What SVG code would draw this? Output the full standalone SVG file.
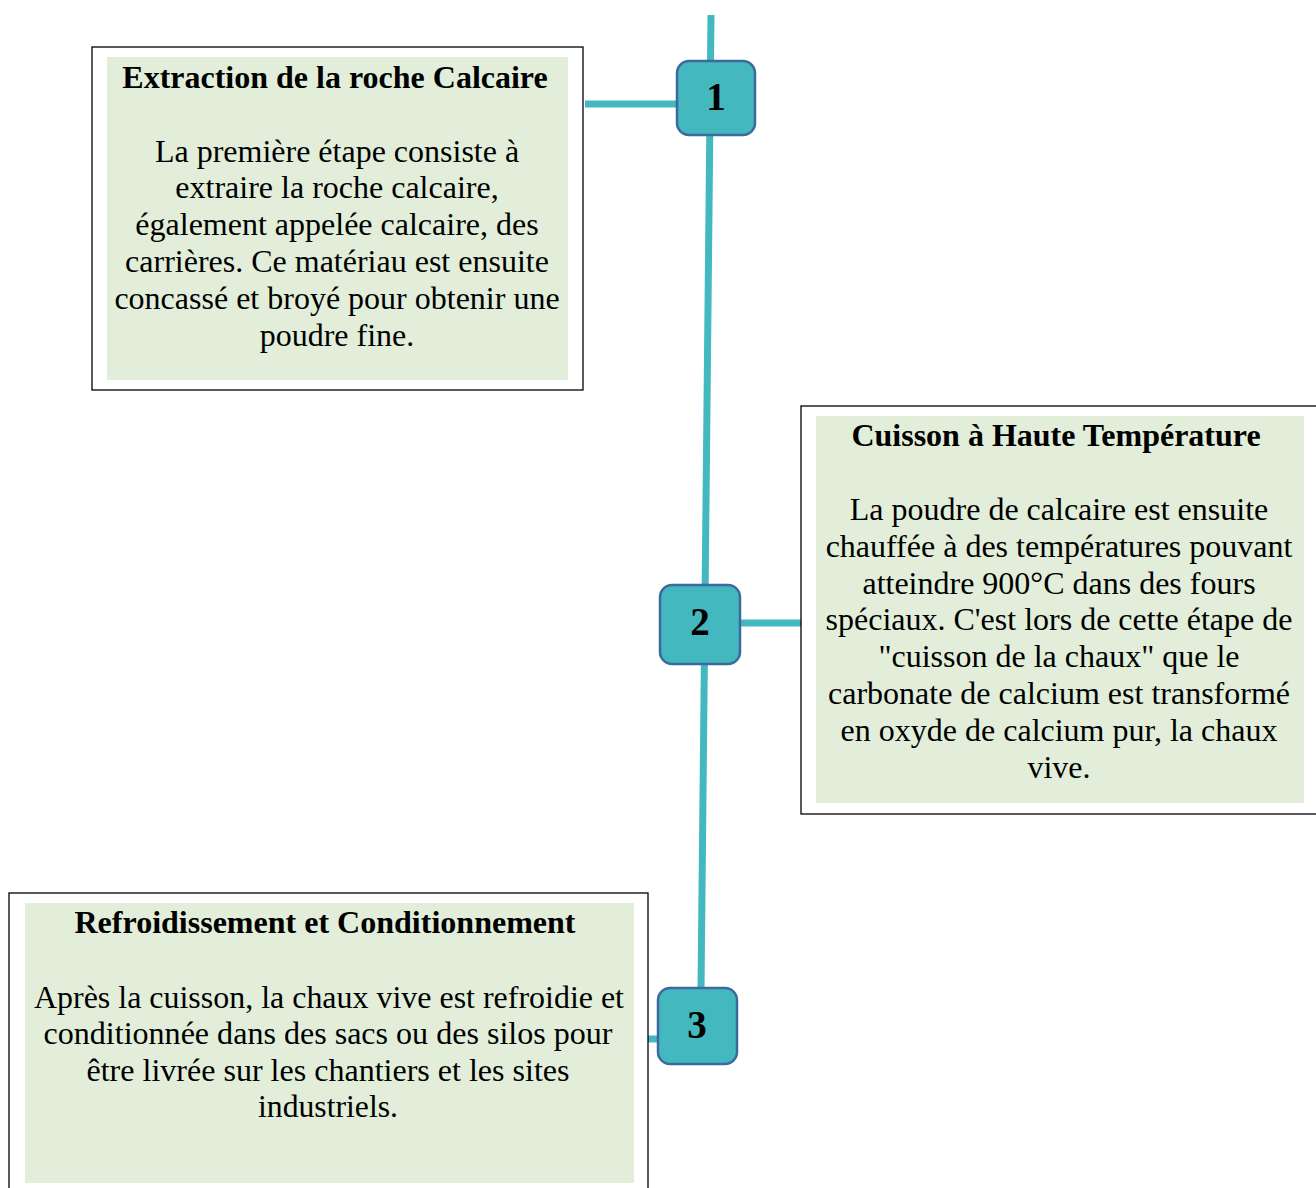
<svg xmlns="http://www.w3.org/2000/svg" width="1316" height="1188" viewBox="0 0 1316 1188">
<style>
.frame{fill:#ffffff;stroke:#000000;stroke-width:1.3}
.fill{fill:#E2EED9}
.title{font-family:"Liberation Serif","Times New Roman",serif;font-weight:bold;font-size:32px;fill:#000;text-anchor:middle}
.body{font-family:"Liberation Serif","Times New Roman",serif;font-size:32px;fill:#000;text-anchor:middle}
.num{fill:#43B9BF;stroke:#3D6A9C;stroke-width:2.5}
.numt{font-family:"Liberation Serif","Times New Roman",serif;font-weight:bold;font-size:39px;fill:#000;text-anchor:middle}
.conn{stroke:#43B9BF;stroke-width:7;fill:none}
</style>
<g id="connectors">
<line class="conn" x1="711" y1="15" x2="701" y2="990"/>
<line class="conn" x1="585" y1="104" x2="678" y2="104"/>
<line class="conn" x1="739" y1="623" x2="801" y2="623"/>
<line class="conn" x1="648" y1="1039" x2="660" y2="1039"/>
</g>
<g id="box1">
<rect class="frame" x="92" y="47" width="491" height="343"/>
<rect class="fill" x="107" y="57" width="461" height="323"/>
<text class="title" x="335" y="88">Extraction de la roche Calcaire</text>
<text class="body" x="337" y="162">La première étape consiste à</text>
<text class="body" x="337" y="198">extraire la roche calcaire,</text>
<text class="body" x="337" y="235">également appelée calcaire, des</text>
<text class="body" x="337" y="272">carrières. Ce matériau est ensuite</text>
<text class="body" x="337" y="309">concassé et broyé pour obtenir une</text>
<text class="body" x="337" y="346">poudre fine.</text>
</g>
<g id="box2">
<rect class="frame" x="801" y="406" width="520" height="408"/>
<rect class="fill" x="816" y="416" width="488" height="387"/>
<text class="title" x="1056" y="446">Cuisson à Haute Température</text>
<text class="body" x="1059" y="520">La poudre de calcaire est ensuite</text>
<text class="body" x="1059" y="557">chauffée à des températures pouvant</text>
<text class="body" x="1059" y="594">atteindre 900°C dans des fours</text>
<text class="body" x="1059" y="630">spéciaux. C'est lors de cette étape de</text>
<text class="body" x="1059" y="667">"cuisson de la chaux" que le</text>
<text class="body" x="1059" y="704">carbonate de calcium est transformé</text>
<text class="body" x="1059" y="741">en oxyde de calcium pur, la chaux</text>
<text class="body" x="1059" y="778">vive.</text>
</g>
<g id="box3">
<rect class="frame" x="9" y="893" width="639" height="310"/>
<rect class="fill" x="25" y="903" width="609" height="280"/>
<text class="title" x="325" y="933" textLength="501" lengthAdjust="spacingAndGlyphs">Refroidissement et Conditionnement</text>
<text class="body" x="329" y="1008" textLength="590" lengthAdjust="spacingAndGlyphs">Après la cuisson, la chaux vive est refroidie et</text>
<text class="body" x="328" y="1044" textLength="569" lengthAdjust="spacingAndGlyphs">conditionnée dans des sacs ou des silos pour</text>
<text class="body" x="328" y="1081" textLength="483" lengthAdjust="spacingAndGlyphs">être livrée sur les chantiers et les sites</text>
<text class="body" x="328" y="1117" textLength="140" lengthAdjust="spacingAndGlyphs">industriels.</text>
</g>
<g id="node1">
<rect class="num" x="677" y="61" width="78" height="74" rx="12"/>
<text class="numt" x="716" y="110">1</text>
</g>
<g id="node2">
<rect class="num" x="660" y="585" width="80" height="79" rx="12"/>
<text class="numt" x="700" y="635">2</text>
</g>
<g id="node3">
<rect class="num" x="658" y="988" width="79" height="76" rx="12"/>
<text class="numt" x="697" y="1038">3</text>
</g>
</svg>
